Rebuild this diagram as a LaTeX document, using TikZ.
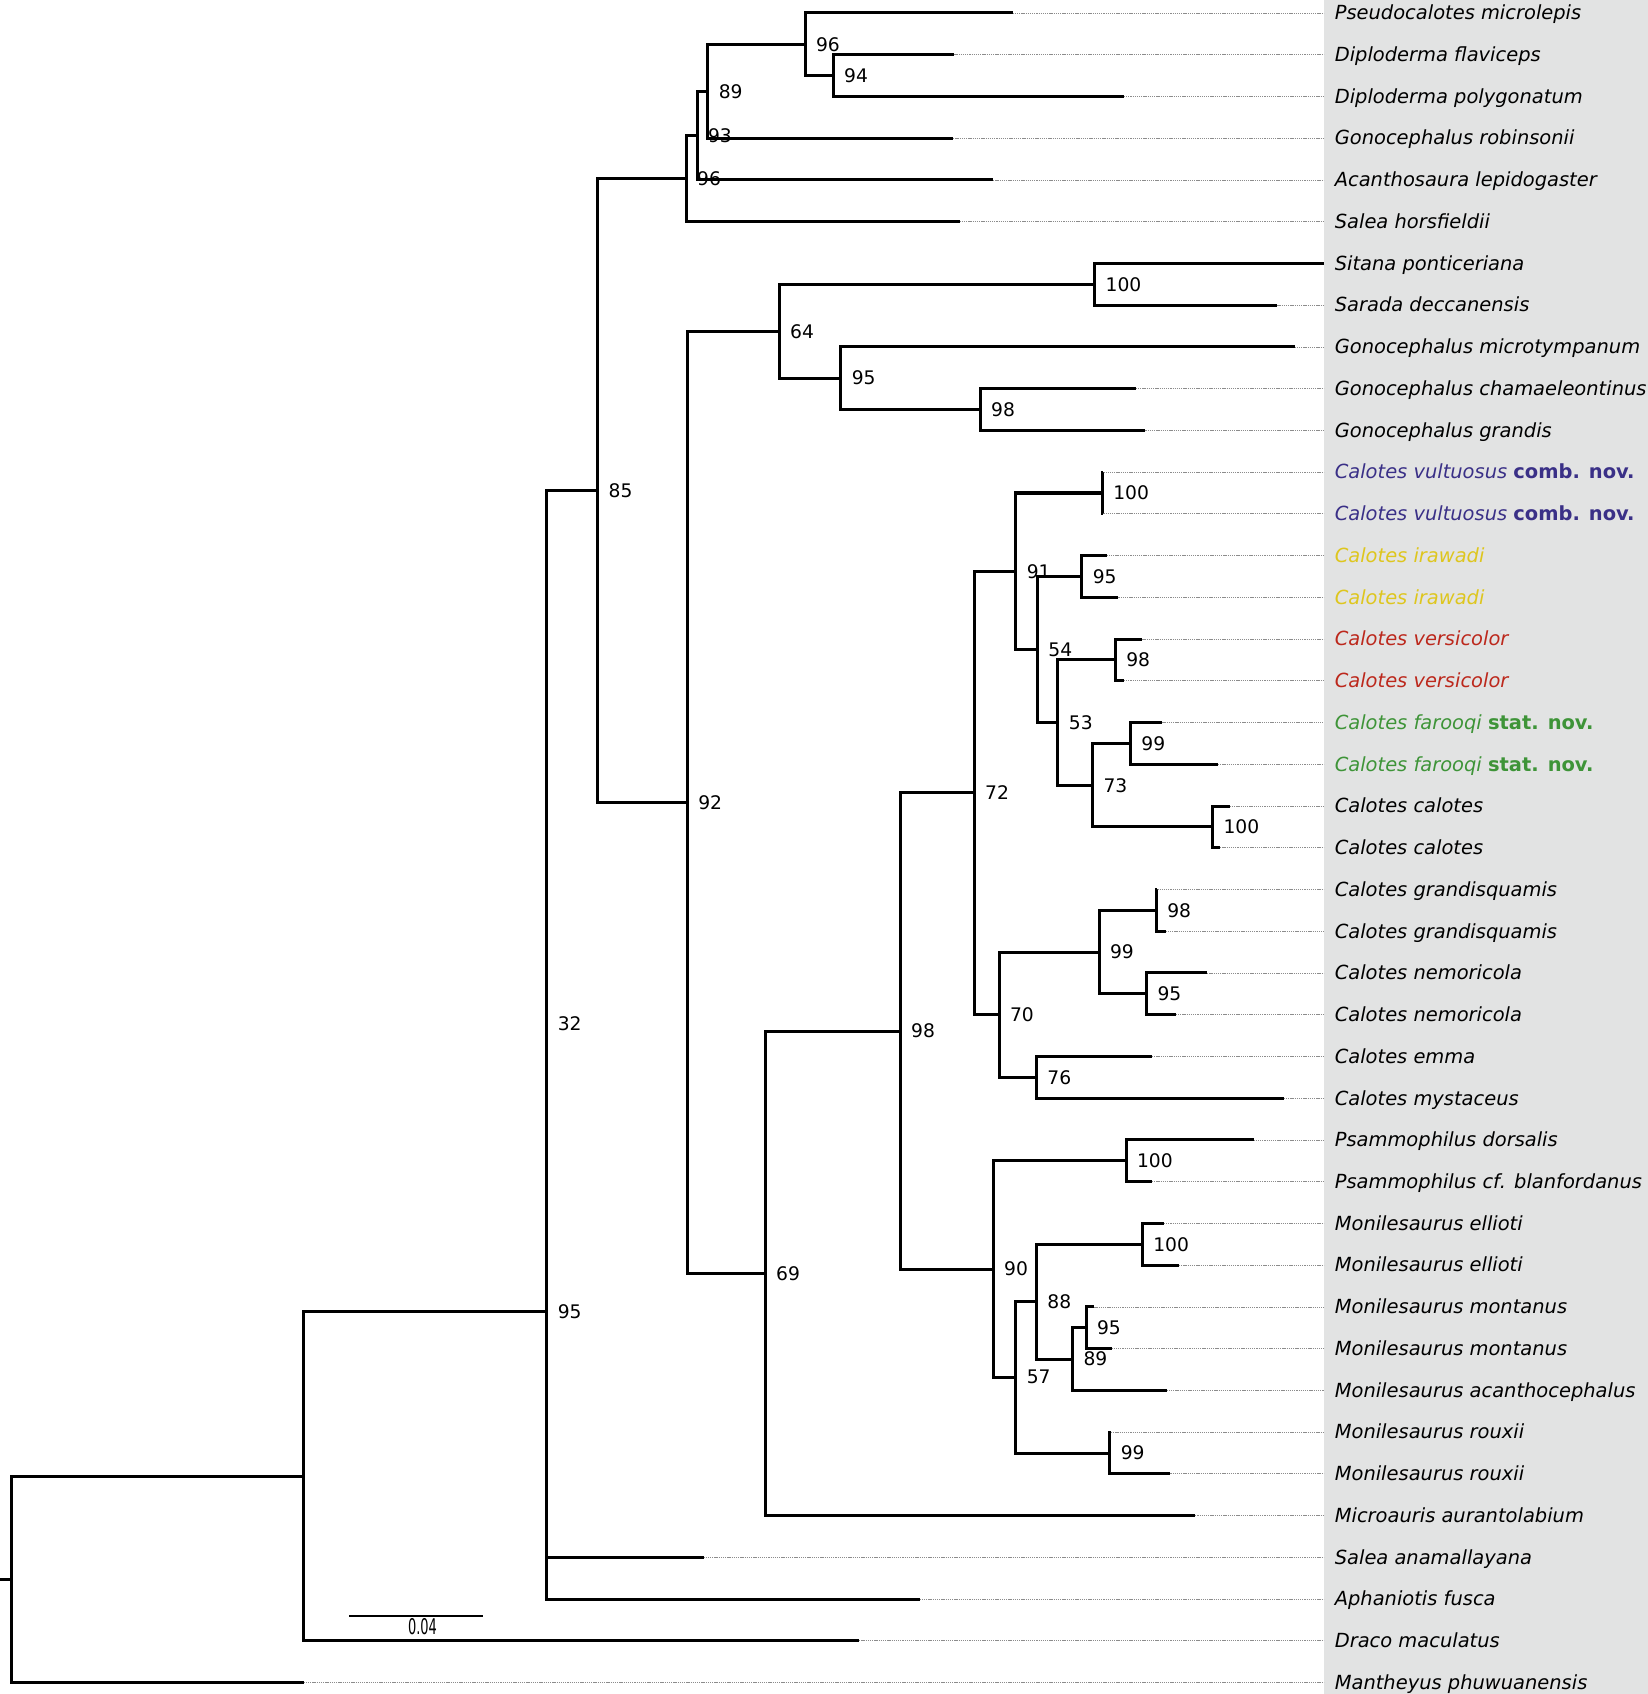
\documentclass[tikz,border=0pt]{standalone}
\usepackage{fontspec}
\setmainfont{DejaVu Sans}
\definecolor{panel}{RGB}{226,227,227}
\definecolor{cblk}{RGB}{0,0,0}
\definecolor{cvul}{RGB}{58,48,135}
\definecolor{cira}{RGB}{222,198,30}
\definecolor{cver}{RGB}{188,40,28}
\definecolor{cfar}{RGB}{62,148,56}
\tikzset{
  br/.style={line width=2.8pt, line join=miter},
  leader/.style={draw=black!45, line width=0.7pt, dash pattern=on 1.2pt off 0.8pt},
  tiplab/.style={anchor=base west, inner sep=0pt, xshift=10pt, yshift=-6.3pt, font=\fontsize{18}{20}\selectfont\itshape},
  bs/.style={anchor=west, inner sep=0pt, font=\fontsize{17.3}{20}\selectfont},
}
\begin{document}
\begin{tikzpicture}[x=1pt,y=-1pt]
\useasboundingbox (0,0) rectangle (1525,1567.6);
\fill[panel] (1225,0) rectangle (1525,1567.6);

% tips: index / tip x / text / colour
\foreach \i/\x/\txt/\col in {
 1/937/{Pseudocalotes microlepis}/cblk,
 2/883/{Diploderma flaviceps}/cblk,
 3/1040/{Diploderma polygonatum}/cblk,
 4/882/{Gonocephalus robinsonii}/cblk,
 5/919/{Acanthosaura lepidogaster}/cblk,
 6/888/{Salea horsfieldii}/cblk,
 7/1225/{Sitana ponticeriana}/cblk,
 8/1182/{Sarada deccanensis}/cblk,
 9/1198/{Gonocephalus microtympanum}/cblk,
 10/1051/{Gonocephalus chamaeleontinus}/cblk,
 11/1060/{Gonocephalus grandis}/cblk,
 12/1021/{Calotes vultuosus {\upshape\bfseries comb. nov.}}/cvul,
 13/1021/{Calotes vultuosus {\upshape\bfseries comb. nov.}}/cvul,
 14/1024/{Calotes irawadi}/cira,
 15/1035/{Calotes irawadi}/cira,
 16/1057/{Calotes versicolor}/cver,
 17/1040/{Calotes versicolor}/cver,
 18/1075.5/{Calotes farooqi {\upshape\bfseries stat. nov.}}/cfar,
 19/1127/{Calotes farooqi {\upshape\bfseries stat. nov.}}/cfar,
 20/1138/{Calotes calotes}/cblk,
 21/1129/{Calotes calotes}/cblk,
 22/1071/{Calotes grandisquamis}/cblk,
 23/1078.6/{Calotes grandisquamis}/cblk,
 24/1117/{Calotes nemoricola}/cblk,
 25/1088/{Calotes nemoricola}/cblk,
 26/1066/{Calotes emma}/cblk,
 27/1188/{Calotes mystaceus}/cblk,
 28/1160/{Psammophilus dorsalis}/cblk,
 29/1066/{Psammophilus cf. blanfordanus}/cblk,
 30/1077/{Monilesaurus ellioti}/cblk,
 31/1091/{Monilesaurus ellioti}/cblk,
 32/1012.6/{Monilesaurus montanus}/cblk,
 33/1028.6/{Monilesaurus montanus}/cblk,
 34/1079.6/{Monilesaurus acanthocephalus}/cblk,
 35/1028/{Monilesaurus rouxii}/cblk,
 36/1083/{Monilesaurus rouxii}/cblk,
 37/1106/{Microauris aurantolabium}/cblk,
 38/651/{Salea anamallayana}/cblk,
 39/851/{Aphaniotis fusca}/cblk,
 40/795/{Draco maculatus}/cblk,
 41/281/{Mantheyus phuwuanensis}/cblk}{
  \coordinate (e\i) at (\x,{12+38.625*(\i-1)});
  \coordinate (g\i) at (1225,{12+38.625*(\i-1)});
  \draw[leader] (e\i) -- (g\i);
  \node[tiplab,text=\col] (L\i) at (g\i) {\txt};
}

% internal nodes
\coordinate (n94)   at (771,69.9);
\coordinate (nA96)  at (745,40.96);
\coordinate (n89)   at (655,84.4);
\coordinate (n93)   at (645,125.5);
\coordinate (n96b)  at (635,165.3);
\coordinate (n100s) at (1013,263.1);
\coordinate (n98g)  at (907,378.9);
\coordinate (n95g)  at (778,349.96);
\coordinate (n64)   at (721,306.5);
\coordinate (n100v) at (1020,456.2);
\coordinate (n95i)  at (1001,533.4);
\coordinate (n98v)  at (1032,610.7);
\coordinate (n99f)  at (1046,687.9);
\coordinate (n100c) at (1122,765.2);
\coordinate (n73)   at (1011,726.6);
\coordinate (n53)   at (979,668.6);
\coordinate (n54)   at (960,601);
\coordinate (n91)   at (940,528.6);
\coordinate (n98gq) at (1070,842.4);
\coordinate (n95n)  at (1061,919.7);
\coordinate (n99)   at (1017,881.1);
\coordinate (n76)   at (959,996.9);
\coordinate (n70)   at (924.5,939);
\coordinate (n72)   at (901.5,733.8);
\coordinate (n100p) at (1042,1074.2);
\coordinate (n100e) at (1057,1151.4);
\coordinate (n95m)  at (1005,1228.7);
\coordinate (n89m)  at (992.5,1257.6);
\coordinate (n88)   at (959,1204.5);
\coordinate (n99r)  at (1027,1344.6);
\coordinate (n57)   at (940,1274.5);
\coordinate (n90)   at (919,1174.4);
\coordinate (n98b)  at (833,954.1);
\coordinate (n69)   at (708,1178.3);
\coordinate (n92)   at (636,742.4);
\coordinate (n85)   at (553,453.9);
\coordinate (n32)   at (506,947.5);
\coordinate (n95r)  at (506,1213.6);
\coordinate (n281)  at (281,1366);
\coordinate (root)  at (11,1461.5);
\coordinate (stub)  at (0,1461.5);

% branches
\foreach \p/\c in {
 nA96/e1, nA96/n94, n94/e2, n94/e3, n89/nA96, n89/e4, n93/n89, n93/e5,
 n96b/n93, n96b/e6, n100s/e7, n100s/e8, n98g/e10, n98g/e11, n95g/e9, n95g/n98g,
 n64/n100s, n64/n95g, n100v/e12, n100v/e13, n95i/e14, n95i/e15, n98v/e16, n98v/e17,
 n99f/e18, n99f/e19, n100c/e20, n100c/e21, n73/n99f, n73/n100c, n53/n98v, n53/n73,
 n54/n95i, n54/n53, n91/n100v, n91/n54, n98gq/e22, n98gq/e23, n95n/e24, n95n/e25,
 n99/n98gq, n99/n95n, n76/e26, n76/e27, n70/n99, n70/n76, n72/n91, n72/n70,
 n100p/e28, n100p/e29, n100e/e30, n100e/e31, n95m/e32, n95m/e33, n89m/n95m, n89m/e34,
 n88/n100e, n88/n89m, n99r/e35, n99r/e36, n57/n88, n57/n99r, n90/n100p, n90/n57,
 n98b/n72, n98b/n90, n69/n98b, n69/e37, n92/n64, n92/n69, n85/n96b, n85/n92,
 n32/n85, n32/e38, n95r/n32, n95r/e39, n281/n95r, n281/e40, root/n281, root/e41}{
  \draw[br] (\p) |- (\c);
}
\draw[br] (stub) -- (root);

% support values
\foreach \n/\v in {
 nA96/96, n94/94, n89/89, n93/93, n96b/96, n100s/100, n98g/98, n95g/95, n64/64,
 n100v/100, n95i/95, n98v/98, n99f/99, n100c/100, n73/73, n53/53, n54/54, n91/91,
 n98gq/98, n95n/95, n99/99, n76/76, n70/70, n72/72, n100p/100, n100e/100, n95m/95,
 n89m/89, n88/88, n99r/99, n57/57, n90/90, n98b/98, n69/69, n92/92, n85/85,
 n32/32, n95r/95}{
  \node[bs] (s-\n) at ([xshift=10pt]\n) {\v};
}

% scale bar
\coordinate (sbA) at (323,1495.5);
\coordinate (sbB) at (447,1495.5);
\draw[line width=1.3pt] (sbA) -- (sbB);
\node[anchor=north, inner sep=0pt, font=\fontsize{20}{20}\selectfont] (sbl) at (391,1497.5) {\scalebox{0.6}[1]{0.04}};
\end{tikzpicture}
\end{document}
